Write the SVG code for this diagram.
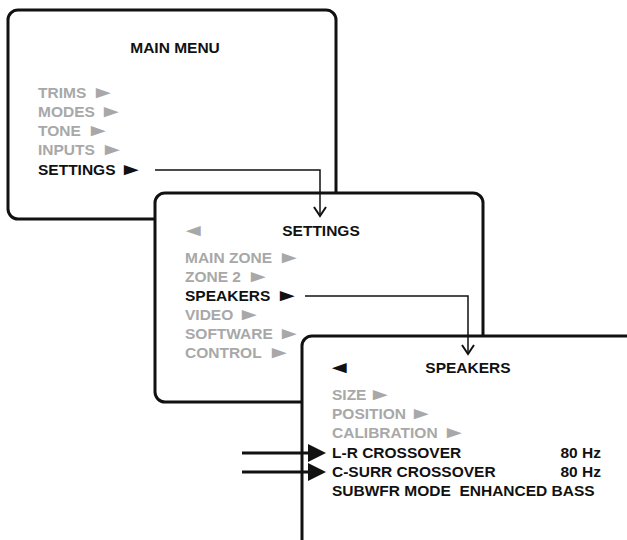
<svg xmlns="http://www.w3.org/2000/svg" width="627" height="540" viewBox="0 0 627 540">
<defs>
<style>
.box{fill:#fff;stroke:#111;stroke-width:3}
.t{font-family:"Liberation Sans",Arial,sans-serif;font-weight:bold;font-size:15.5px;white-space:pre}
.g{fill:#a8a8a8}
.k{fill:#111}
.con{fill:none;stroke:#111;stroke-width:1.5}
.side{fill:none;stroke:#111;stroke-width:3}
</style>
<marker id="open" markerWidth="14" markerHeight="14" refX="10" refY="7" orient="auto" markerUnits="userSpaceOnUse" viewBox="0 0 14 14">
<path d="M1,1 L10,7 L1,13" fill="none" stroke="#111" stroke-width="2"/>
</marker>
</defs>
<g id="main-menu">
<rect class="box" x="8" y="10" width="328" height="209" rx="10"/>
<text class="t k" x="175" y="53" text-anchor="middle">MAIN MENU</text>
<text class="t g" x="38" y="98">TRIMS</text>
<text class="t g" transform="translate(91,98) scale(1.6,1.1)">►</text>
<text class="t g" x="38" y="117">MODES</text>
<text class="t g" transform="translate(99,117) scale(1.6,1.1)">►</text>
<text class="t g" x="38" y="136">TONE</text>
<text class="t g" transform="translate(86,136) scale(1.6,1.1)">►</text>
<text class="t g" x="38" y="155">INPUTS</text>
<text class="t g" transform="translate(100,155) scale(1.6,1.1)">►</text>
<text class="t k" x="38" y="175">SETTINGS</text>
<text class="t k" transform="translate(119,175) scale(1.6,1.1)">►</text>
</g>
<g id="settings">
<rect class="box" x="155" y="193" width="328" height="209" rx="10"/>
<text class="t g" transform="translate(181,236) scale(1.6,1.1)">◄</text>
<text class="t k" x="321" y="236" text-anchor="middle">SETTINGS</text>
<text class="t g" x="185" y="263">MAIN ZONE</text>
<text class="t g" transform="translate(277,263) scale(1.6,1.1)">►</text>
<text class="t g" x="185" y="282">ZONE 2</text>
<text class="t g" transform="translate(246,282) scale(1.6,1.1)">►</text>
<text class="t k" x="185" y="301">SPEAKERS</text>
<text class="t k" transform="translate(275,301) scale(1.6,1.1)">►</text>
<text class="t g" x="185" y="320">VIDEO</text>
<text class="t g" transform="translate(237,320) scale(1.6,1.1)">►</text>
<text class="t g" x="185" y="339">SOFTWARE</text>
<text class="t g" transform="translate(277,339) scale(1.6,1.1)">►</text>
<text class="t g" x="185" y="358">CONTROL</text>
<text class="t g" transform="translate(267,358) scale(1.6,1.1)">►</text>
</g>
<g id="speakers">
<rect class="box" x="302" y="336" width="400" height="300" rx="10"/>
<text class="t k" transform="translate(327,373) scale(1.6,1.1)">◄</text>
<text class="t k" x="468" y="373" text-anchor="middle">SPEAKERS</text>
<text class="t g" x="332" y="400">SIZE</text>
<text class="t g" transform="translate(368,400) scale(1.6,1.1)">►</text>
<text class="t g" x="332" y="419">POSITION</text>
<text class="t g" transform="translate(409,419) scale(1.6,1.1)">►</text>
<text class="t g" x="332" y="438">CALIBRATION</text>
<text class="t g" transform="translate(442,438) scale(1.6,1.1)">►</text>
<text class="t k" x="332" y="458">L-R CROSSOVER</text>
<text class="t k" x="601" y="458" text-anchor="end">80 Hz</text>
<text class="t k" x="332" y="477">C-SURR CROSSOVER</text>
<text class="t k" x="601" y="477" text-anchor="end">80 Hz</text>
<text class="t k" x="332" y="496" xml:space="preserve">SUBWFR MODE  ENHANCED BASS</text>
</g>
<g id="connectors">
<path class="con" d="M155,170 H320 V216" marker-end="url(#open)"/>
<path class="con" d="M305,296 H468 V354" marker-end="url(#open)"/>
<path class="side" d="M242,453 H312"/>
<polygon points="308,444 326,453 308,462" fill="#111"/>
<path class="side" d="M242,472 H312"/>
<polygon points="308,463 326,472 308,481" fill="#111"/>
</g>
</svg>
